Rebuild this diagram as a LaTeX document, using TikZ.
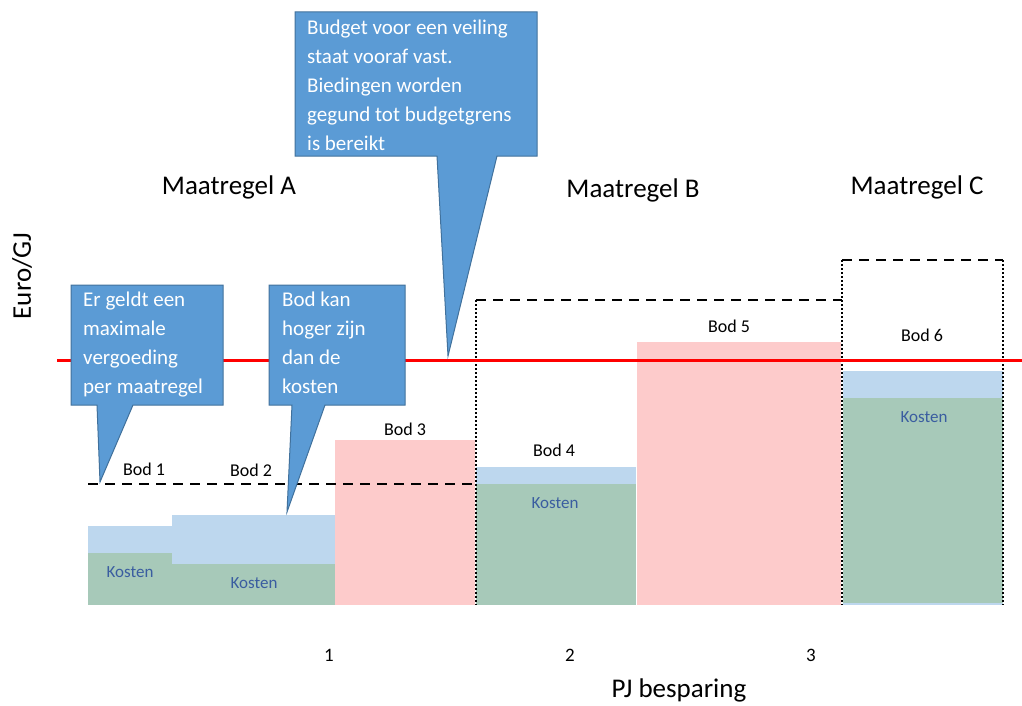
\documentclass[tikz,border=0pt]{standalone}
\usepackage{fontspec}
\setmainfont{Carlito}
\definecolor{calfill}{HTML}{5B9BD5}
\definecolor{caldraw}{HTML}{41719C}
\definecolor{lblue}{HTML}{BDD7EE}
\definecolor{kgreen}{HTML}{A7C9B9}
\definecolor{bpink}{HTML}{FDCBCB}
\definecolor{kostenblue}{HTML}{3A5DA0}
\begin{document}
\begin{tikzpicture}[x=1pt,y=-1pt,
  big/.style={font=\fontsize{27}{32}\selectfont, inner sep=0pt},
  bodlbl/.style={font=\fontsize{18}{22}\selectfont, inner sep=0pt},
  kostlbl/.style={font=\fontsize{17}{20}\selectfont, text=kostenblue, inner sep=0pt},
  ticklbl/.style={font=\fontsize{19}{22}\selectfont, inner sep=0pt},
  callout/.style={fill=calfill, draw=caldraw, line width=1pt},
  callouttext/.style={font=\fontsize{21}{29}\selectfont, text=white, align=left, anchor=north west, inner sep=0pt},
  budgetline/.style={line width=2.2pt, dash pattern=on 10pt off 7pt},
  dotline/.style={line width=2pt, dash pattern=on 2pt off 2pt},
  limitline/.style={red, line width=3pt}]
\useasboundingbox (0,0) rectangle (1022,706);
% bars
\fill[lblue] (88,526) rectangle (172,605);
\fill[kgreen] (88,553) rectangle (172,605);
\fill[lblue] (172,515) rectangle (335,605);
\fill[kgreen] (172,564) rectangle (335,605);
\fill[bpink] (335,440) rectangle (475,605);
\fill[lblue] (476,467) rectangle (636,605);
\fill[kgreen] (476,484) rectangle (636,605);
\fill[bpink] (637,342) rectangle (841,605);
\fill[lblue] (843,371) rectangle (1003,605);
\fill[kgreen] (843,398) rectangle (1003,603);
% group boxes
\draw[budgetline] (476,300) -- (842,300);
\draw[dotline] (476,300) -- (476,605);
\draw[budgetline] (842,260) -- (1003,260);
\draw[dotline] (842,260) -- (842,605);
\draw[dotline] (1003,260) -- (1003,605);
% lines
\draw[limitline] (57,360) -- (1022,360);
\draw[budgetline] (88,484) -- (474,484);
% labels
\node[bodlbl] (b1) at (144,469) {Bod 1};
\node[bodlbl] (b2) at (251,470) {Bod 2};
\node[bodlbl] (b3) at (405,429) {Bod 3};
\node[bodlbl] (b4) at (554,450) {Bod 4};
\node[bodlbl] (b5) at (729,326) {Bod 5};
\node[bodlbl] (b6) at (922,335) {Bod 6};
\node[kostlbl] (k1) at (130,572) {Kosten};
\node[kostlbl] (k2) at (254,583) {Kosten};
\node[kostlbl] (k4) at (555,503) {Kosten};
\node[kostlbl] (k6) at (924,417) {Kosten};
\node[big] (ma) at (229,187) {Maatregel A};
\node[big] (mb) at (633,190) {Maatregel B};
\node[big] (mc) at (917,187) {Maatregel C};
\node[big, rotate=90] (yl) at (22,276) {Euro/GJ};
\node[big] (xl) at (679,690) {PJ besparing};
\node[ticklbl] (t1) at (329,655) {1};
\node[ticklbl] (t2) at (570,655) {2};
\node[ticklbl] (t3) at (811,655) {3};
% callouts
\coordinate (tip1) at (100,482);
\coordinate (tip2) at (287,512);
\coordinate (tip3) at (448,356);
\draw[callout] (71,285) -- (223,285) -- (223,405) -- (133,405) -- (tip1) -- (97,405) -- (71,405) -- cycle;
\draw[callout] (269,285) -- (405,285) -- (405,405) -- (325,405) -- (tip2) -- (292,405) -- (269,405) -- cycle;
\draw[callout] (295,12) -- (537,12) -- (537,156) -- (497,156) -- (tip3) -- (437,156) -- (295,156) -- cycle;
\node[callouttext] (c1) at (83,292) {Er geldt een\\maximale\\vergoeding\\per maatregel};
\node[callouttext] (c2) at (282,292) {Bod kan\\hoger zijn\\dan de\\kosten};
\node[callouttext] (c3) at (307,20) {Budget voor een veiling\\staat vooraf vast.\\Biedingen worden\\gegund tot budgetgrens\\is bereikt};
\end{tikzpicture}
\end{document}
